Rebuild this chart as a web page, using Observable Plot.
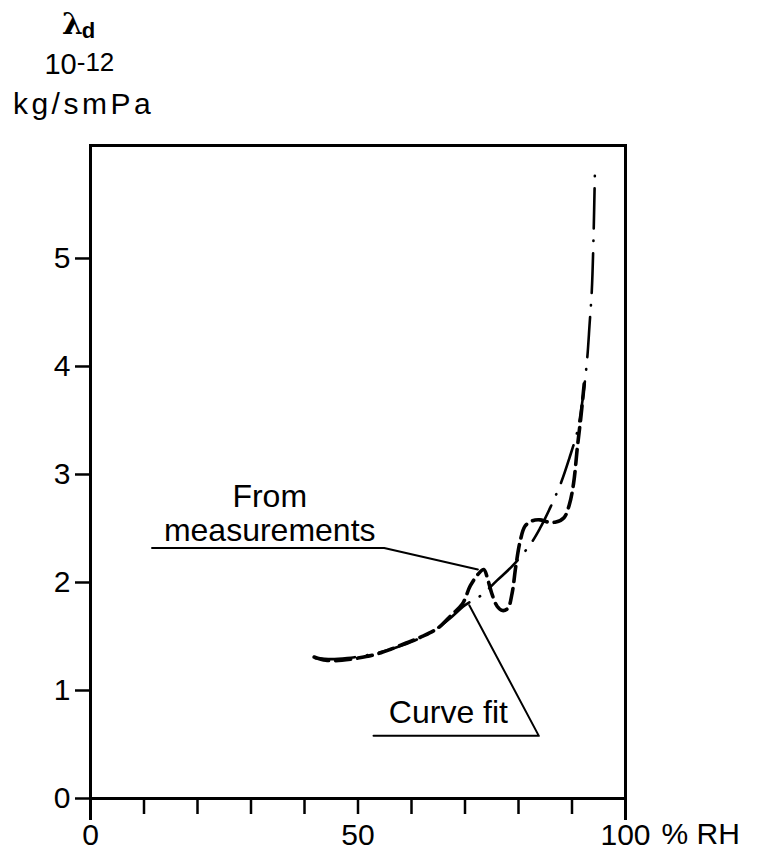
<!DOCTYPE html>
<html>
<head>
<meta charset="utf-8">
<script src="https://cdn.jsdelivr.net/npm/d3@7"></script>
<script src="https://cdn.jsdelivr.net/npm/@observablehq/plot@0.6"></script>
<style>
  html, body { margin: 0; padding: 0; background: #fff; }
  #chart { width: 770px; height: 857px; }
</style>
</head>
<body>
<div id="chart"></div>
<script>
// ---- data ----
const rhMeasured = [41.8, 44, 47, 50, 53, 56, 59, 62, 65, 67.5, 69.5, 71, 72.5, 73.5, 74.3, 75, 76, 77, 78, 78.8, 79.5, 80.3, 81.2, 82.5, 84, 85.5, 87, 88.5, 89.5, 90.3, 91, 91.7, 92.3];
const lambdaMeasured = [1.31, 1.28, 1.28, 1.30, 1.33, 1.38, 1.44, 1.50, 1.58, 1.70, 1.80, 1.97, 2.08, 2.12, 2.02, 1.90, 1.78, 1.74, 1.76, 1.90, 2.15, 2.38, 2.52, 2.57, 2.58, 2.56, 2.56, 2.60, 2.72, 2.92, 3.25, 3.55, 3.85];

const rhFit = [42, 45, 48, 52, 56, 60, 64, 67, 70, 73, 76, 79, 82.3, 84, 86, 88, 89.5, 91, 92, 92.8, 93.3, 93.7, 94, 94.3];
const lambdaFit = [1.30, 1.29, 1.30, 1.33, 1.38, 1.45, 1.55, 1.66, 1.79, 1.88, 2.02, 2.16, 2.36, 2.50, 2.70, 2.93, 3.15, 3.40, 3.70, 4.05, 4.40, 4.70, 5.15, 5.85];

// leader lines for the two labels
const leaderMeasuredRH = [11.5, 54.9, 72.4];
const leaderMeasuredL = [2.32, 2.32, 2.12];
const leaderFitRH = [70.8, 83.8, 52.9];
const leaderFitL = [1.79, 0.58, 0.58];

const labelTexts = ["From", "measurements", "Curve fit"];
const labelRH = [33.5, 33.5, 66.9];
const labelL = [2.79, 2.48, 0.79];

const yTicks = [0, 1, 2, 3, 4, 5];
const xTicks = [0, 10, 20, 30, 40, 50, 60, 70, 80, 90, 100];
const xLabeled = [0, 50, 100];
const xUnit = "% RH";

// ---- tables ----
const measured = rhMeasured.map((x, i) => ({x, y: lambdaMeasured[i]}));
const fit = rhFit.map((x, i) => ({x, y: lambdaFit[i]}));
const leaderM = leaderMeasuredRH.map((x, i) => ({x, y: leaderMeasuredL[i]}));
const leaderF = leaderFitRH.map((x, i) => ({x, y: leaderFitL[i]}));
const labels = labelTexts.map((t, i) => ({t, x: labelRH[i], y: labelL[i]}));

const hdr = {frameAnchor: "top-left", text: d => d, lineAnchor: "middle", textAnchor: "middle", fill: "black"};

const chart = Plot.plot({
  width: 770,
  height: 857,
  marginLeft: 90,
  marginRight: 145,
  marginTop: 145,
  marginBottom: 59,
  style: {fontFamily: "'Liberation Sans', Arial, sans-serif", background: "white", color: "black", overflow: "visible"},
  x: {domain: [0, 100]},
  y: {domain: [0, 6.046]},
  marks: [
    Plot.frame({stroke: "black", strokeWidth: 3}),
    Plot.axisY({ticks: yTicks, tickSize: 15, tickPadding: 5, fontSize: 30, label: null, strokeWidth: 2.5, tickFormat: d => String(d)}),
    Plot.axisX({ticks: xTicks, tickSize: 16, tickPadding: 9, fontSize: 30, label: null, strokeWidth: 2.5,
      tickFormat: d => xLabeled.includes(d) ? String(d) : ""}),
    Plot.axisX({ticks: [0, 100], tickSize: 22, tickFormat: () => "", label: null, strokeWidth: 3}),
    Plot.text([xUnit], {frameAnchor: "bottom-right", text: d => d, dx: 36, dy: 36, textAnchor: "start", lineAnchor: "middle", fontSize: 30}),
    // curves
    Plot.line(measured, {x: "x", y: "y", stroke: "black", strokeWidth: 3.6, strokeDasharray: "15,7", strokeLinecap: "round", curve: "catmull-rom"}),
    Plot.line(fit, {x: "x", y: "y", stroke: "black", strokeWidth: 2.6, strokeDasharray: "40,12,0.5,12", strokeLinecap: "round", curve: "catmull-rom"}),
    // leaders
    Plot.line(leaderM, {x: "x", y: "y", stroke: "black", strokeWidth: 2}),
    Plot.line(leaderF, {x: "x", y: "y", stroke: "black", strokeWidth: 2}),
    Plot.text(labels, {x: "x", y: "y", text: "t", fontSize: 32, fill: "black"}),
    // header (unit label above the y axis)
    Plot.text(["λ"], {...hdr, dx: -18, dy: -121, fontSize: 30, fontWeight: "bold", fontFamily: "'DejaVu Serif', serif"}),
    Plot.text(["d"], {...hdr, dx: -2, dy: -115, fontSize: 22, fontWeight: "bold"}),
    Plot.text(["10"], {...hdr, dx: -30, dy: -81, fontSize: 29}),
    Plot.text(["-12"], {...hdr, dx: 5, dy: -83, fontSize: 26}),
    Plot.text(["kg/smPa"], {...hdr, dx: -7, dy: -41, fontSize: 30})
  ]
});

document.getElementById("chart").appendChild(chart);
d3.select(chart).selectAll("text").filter(function() { return this.textContent === "kg/smPa"; })
  .attr("letter-spacing", "3.5px");
</script>
</body>
</html>
